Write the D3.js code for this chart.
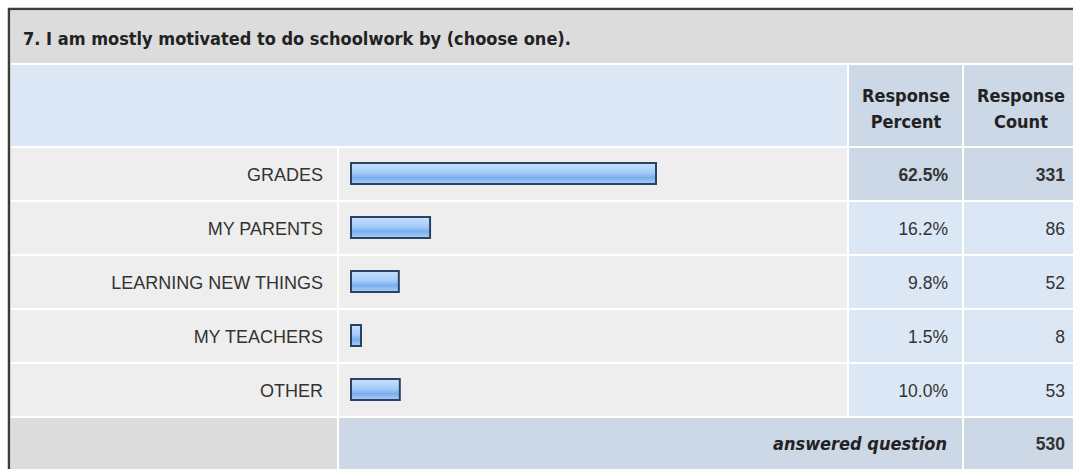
<!DOCTYPE html>
<html>
<head>
<meta charset="utf-8">
<script src="https://cdn.jsdelivr.net/npm/d3@7"></script>
<style>
  body { margin: 0; background: #fff; }
  svg { display: block; }
</style>
</head>
<body>
<svg id="chart"></svg>
<script>
// survey answers
const title = "7. I am mostly motivated to do schoolwork by (choose one).";
const categories = ["GRADES", "MY PARENTS", "LEARNING NEW THINGS", "MY TEACHERS", "OTHER"];
const percents = [62.5, 16.2, 9.8, 1.5, 10.0];
const counts = [331, 86, 52, 8, 53];
const headerLines = [["Response", "Percent"], ["Response", "Count"]];
const footerLabel = "answered question";
const answered = 530;

const width = 1073, height = 469;
const svg = d3.select("#chart").attr("width", width).attr("height", height);

const boldFont = "DejaVu Sans Condensed, DejaVu Sans";
const plainFont = "Liberation Sans, Arial";

// column edges
const col = {
  label: [11, 337],
  bar: [339, 847],
  pct: [849, 962],
  cnt: [964, 1080]
};

const y = d3.scaleBand().domain(categories).range([148, 416]).paddingInner(2 / 54);
const x = d3.scaleLinear().domain([0, 100]).range([0, 488]);

const maxIdx = d3.maxIndex(percents);
const fmtPct = d => d3.format(".1f")(d) + "%";

const defs = svg.append("defs");
const grad = defs.append("linearGradient")
  .attr("id", "bar-grad")
  .attr("x1", "0%").attr("x2", "0%")
  .attr("y1", "0%").attr("y2", "100%");
[["0%", "#c6e0fd"], ["45%", "#a6cdf9"], ["60%", "#8abaf3"], ["70%", "#7aaeee"], ["100%", "#acd0f9"]]
  .forEach(s => grad.append("stop").attr("offset", s[0]).attr("stop-color", s[1]));

// outer frame
svg.append("rect").attr("x", 9).attr("y", 9).attr("width", width).attr("height", height)
  .attr("fill", "#fff").attr("stroke", "#3c3c3c").attr("stroke-width", 2.5);

// title band
svg.append("rect").attr("x", 11).attr("y", 11).attr("width", width).attr("height", 52).attr("fill", "#dcdcdc");
svg.append("text").attr("x", 23).attr("y", 45)
  .attr("font-family", boldFont).attr("font-weight", "bold")
  .attr("font-size", 18).attr("fill", "#222")
  .text(title);

// header row
svg.append("rect").attr("x", col.label[0]).attr("y", 65).attr("width", col.bar[1] - col.label[0]).attr("height", 81)
  .attr("fill", "#dce7f5");
[col.pct, col.cnt].forEach((c, i) => {
  svg.append("rect").attr("x", c[0]).attr("y", 65).attr("width", c[1] - c[0]).attr("height", 81)
    .attr("fill", "#ccd8e6");
  const cx = i === 0 ? 906 : 1021;
  const t = svg.append("text")
    .attr("text-anchor", "middle")
    .attr("font-family", boldFont).attr("font-weight", "bold")
    .attr("font-size", 18).attr("fill", "#222");
  headerLines[i].forEach((line, j) => {
    t.append("tspan").attr("x", cx).attr("y", 102 + j * 26).text(line);
  });
});

// data rows
const rows = svg.append("g").selectAll("g.row")
  .data(categories.map((c, i) => ({ c, p: percents[i], n: counts[i], i })))
  .join("g").attr("class", "row");

rows.append("rect").attr("x", col.label[0]).attr("y", d => y(d.c))
  .attr("width", col.label[1] - col.label[0]).attr("height", y.bandwidth()).attr("fill", "#eeeeee");
rows.append("rect").attr("x", col.bar[0]).attr("y", d => y(d.c))
  .attr("width", col.bar[1] - col.bar[0]).attr("height", y.bandwidth()).attr("fill", "#eeeeee");
rows.append("rect").attr("x", col.pct[0]).attr("y", d => y(d.c))
  .attr("width", col.pct[1] - col.pct[0]).attr("height", y.bandwidth())
  .attr("fill", d => d.i === maxIdx ? "#ccd8e6" : "#dce7f5");
rows.append("rect").attr("x", col.cnt[0]).attr("y", d => y(d.c))
  .attr("width", col.cnt[1] - col.cnt[0]).attr("height", y.bandwidth())
  .attr("fill", d => d.i === maxIdx ? "#ccd8e6" : "#dce7f5");

const textY = d => y(d.c) + y.bandwidth() / 2 + 6.5;

rows.append("text").attr("x", 323).attr("y", textY).attr("text-anchor", "end")
  .attr("font-family", plainFont).attr("font-size", 18).attr("fill", "#333")
  .text(d => d.c);

// bars keep a small minimum width, like the survey tool does
rows.append("rect")
  .attr("x", 351).attr("y", d => y(d.c) + 15)
  .attr("width", d => Math.max(x(d.p), 10)).attr("height", 21)
  .attr("fill", "url(#bar-grad)").attr("stroke", "#2a4363").attr("stroke-width", 2);

rows.append("text").attr("x", 948).attr("y", textY).attr("text-anchor", "end")
  .attr("font-family", plainFont).attr("font-size", 17.5).attr("fill", "#333")
  .attr("font-weight", d => d.i === maxIdx ? "bold" : "normal")
  .text(d => fmtPct(d.p));

rows.append("text").attr("x", 1065).attr("y", textY).attr("text-anchor", "end")
  .attr("font-family", plainFont).attr("font-size", 17.5).attr("fill", "#333")
  .attr("font-weight", d => d.i === maxIdx ? "bold" : "normal")
  .text(d => d.n);

// footer
svg.append("rect").attr("x", col.label[0]).attr("y", 418).attr("width", col.label[1] - col.label[0]).attr("height", 60)
  .attr("fill", "#dcdcdc");
svg.append("rect").attr("x", col.bar[0]).attr("y", 418).attr("width", col.pct[1] - col.bar[0]).attr("height", 60)
  .attr("fill", "#ccd8e6");
svg.append("rect").attr("x", col.cnt[0]).attr("y", 418).attr("width", col.cnt[1] - col.cnt[0]).attr("height", 60)
  .attr("fill", "#ccd8e6");
svg.append("text").attr("x", 947).attr("y", 450).attr("text-anchor", "end")
  .attr("font-family", boldFont).attr("font-weight", "bold").attr("font-style", "italic")
  .attr("font-size", 18).attr("fill", "#222")
  .text(footerLabel);
svg.append("text").attr("x", 1065).attr("y", 450).attr("text-anchor", "end")
  .attr("font-family", plainFont).attr("font-weight", "bold")
  .attr("font-size", 17.5).attr("fill", "#333")
  .text(answered);
</script>
</body>
</html>
